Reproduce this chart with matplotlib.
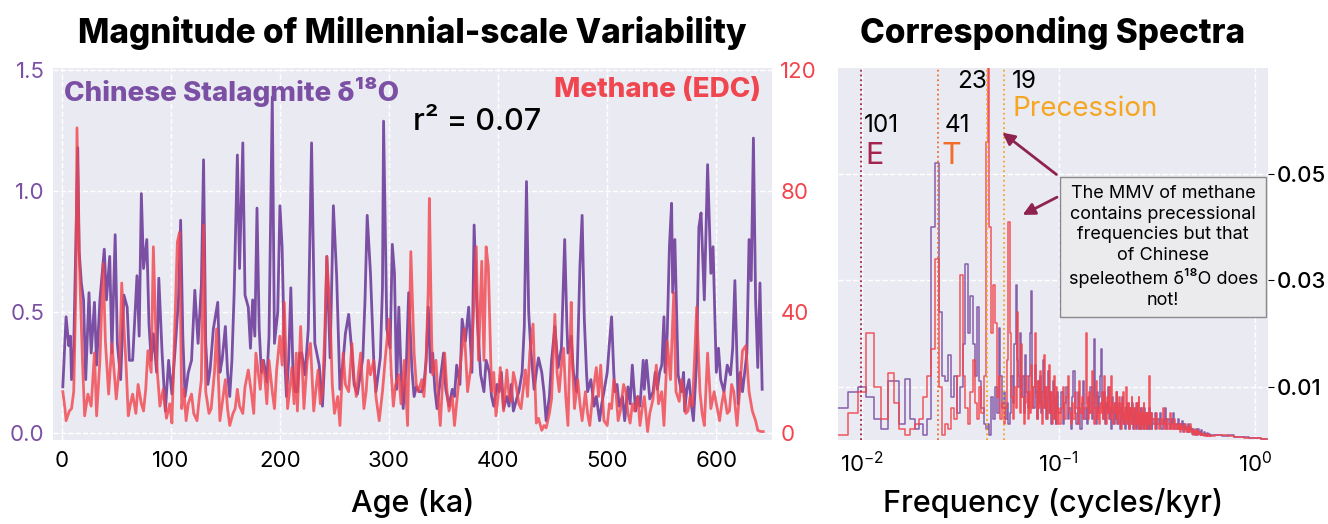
import matplotlib
matplotlib.use("Agg")
import matplotlib.pyplot as plt
import numpy as np

plt.rcParams["font.family"] = ["Inter", "DejaVu Sans"]
plt.rcParams["mathtext.fontset"] = "custom"
plt.rcParams["mathtext.rm"] = "Inter"
plt.rcParams["mathtext.it"] = "Inter"
plt.rcParams["mathtext.bf"] = "Inter:bold"

PURPLE = "#7b4fa3"
RED = "#f2444c"
BG = "#eaeaf2"

# ---- left panel: millennial-scale variability (ka, magnitude) ----
age_d18o = [1, 4, 6.5, 8, 9, 11, 13, 14.7, 16, 18, 20, 22, 25, 27, 30, 32, 35, 39, 41, 44,
            46, 49, 51, 54, 57, 60, 62, 65, 69, 71, 73, 75, 78, 80, 82, 84, 87, 89, 92, 95,
            98, 101, 104, 107, 109, 111, 113, 116, 119, 122, 125, 128, 130, 132, 134, 136, 139, 143, 145, 147,
            150, 152, 154, 156, 158, 161, 163, 166, 168, 171, 173, 175, 177, 179, 181, 183, 185, 188, 190, 193,
            195, 198, 200, 202, 204, 206, 208, 210, 212, 214, 216, 218, 220, 223, 226, 229, 232, 236, 239, 241,
            243, 246, 249, 252, 255, 258, 260, 263, 266, 268, 271, 274, 276, 278, 280, 283, 286, 288, 292, 294,
            295, 298, 301, 303, 305, 307, 309, 311, 313, 316, 318, 321, 323, 325, 328, 330, 332, 334, 336, 338,
            340, 342, 344, 347, 350, 352, 355, 358, 360, 362, 365, 367, 370, 373, 376, 378, 381, 384, 387, 389,
            392, 394, 396, 399, 401, 403, 405, 408, 410, 412, 414, 417, 419, 422, 424, 426, 428, 430, 433, 435,
            437, 440, 442, 444, 447, 449, 452, 455, 458, 461, 463, 464, 467, 469, 472, 475, 477, 479, 481, 482,
            485, 488, 490, 493, 495, 497, 500, 502, 504, 506, 507, 509, 511, 514, 516, 519, 521, 523, 526, 528,
            530, 533, 534, 536, 539, 542, 544, 546, 548, 550, 552, 553, 555, 557, 559, 560, 562, 565, 568, 570,
            571, 573, 575, 577, 579, 582, 584, 586, 589, 592, 595, 597, 600, 602, 604, 607, 610, 613, 615, 617,
            620, 622, 624, 626, 628, 630, 632, 634, 636, 638, 640, 642]
mmv_d18o = [0.19, 0.48, 0.36, 0.40, 0.22, 0.35, 0.80, 1.18, 0.75, 0.62, 0.55, 0.22, 0.58, 0.33, 0.54, 0.28, 0.55, 0.76, 0.55, 0.73,
            0.33, 0.82, 0.37, 0.22, 0.57, 0.52, 0.30, 0.30, 0.65, 0.40, 0.99, 0.68, 0.80, 0.45, 0.30, 0.41, 0.25, 0.64, 0.33, 0.09,
            0.30, 0.16, 0.35, 0.55, 0.88, 0.40, 0.15, 0.25, 0.30, 0.59, 0.37, 0.61, 1.13, 0.37, 0.20, 0.26, 0.43, 0.54, 0.25, 0.30,
            0.44, 0.25, 0.15, 0.30, 0.57, 1.15, 0.68, 1.20, 0.57, 0.52, 0.35, 0.55, 0.40, 0.93, 0.43, 0.25, 0.30, 0.21, 0.40, 1.39,
            0.37, 0.50, 0.94, 0.77, 0.35, 0.15, 0.30, 0.60, 0.25, 0.17, 0.17, 0.33, 0.33, 0.24, 0.43, 1.20, 0.37, 0.28, 0.11, 0.30,
            0.73, 0.31, 0.94, 0.65, 0.18, 0.30, 0.41, 0.49, 0.33, 0.20, 0.16, 0.25, 0.31, 0.55, 0.90, 0.66, 0.30, 0.17, 0.31, 0.60,
            1.29, 0.43, 0.35, 0.78, 0.66, 0.18, 0.52, 0.25, 0.10, 0.30, 0.58, 0.26, 0.15, 0.19, 0.17, 0.17, 0.20, 0.30, 0.52, 0.25,
            0.33, 0.18, 0.10, 0.22, 0.33, 0.18, 0.11, 0.18, 0.15, 0.28, 0.20, 0.47, 0.38, 0.52, 0.25, 0.86, 0.46, 0.24, 0.17, 0.30,
            0.25, 0.15, 0.11, 0.20, 0.17, 0.25, 0.10, 0.15, 0.11, 0.20, 0.09, 0.14, 0.17, 0.25, 0.44, 1.04, 0.50, 0.34, 0.18, 0.25,
            0.31, 0.25, 0.17, 0.05, 0.15, 0.30, 0.44, 0.27, 0.35, 0.80, 0.45, 0.33, 0.40, 0.25, 0.17, 0.69, 0.90, 0.47, 0.25, 0.17,
            0.22, 0.11, 0.15, 0.05, 0.12, 0.17, 0.25, 0.37, 0.48, 0.25, 0.17, 0.20, 0.11, 0.15, 0.05, 0.19, 0.12, 0.28, 0.09, 0.15,
            0.11, 0.30, 0.18, 0.30, 0.14, 0.17, 0.25, 0.18, 0.25, 0.28, 0.48, 0.25, 0.41, 0.77, 0.95, 0.58, 0.80, 0.24, 0.17, 0.25,
            0.09, 0.18, 0.22, 0.12, 0.05, 0.30, 0.85, 0.91, 0.55, 1.11, 0.66, 0.77, 0.25, 0.35, 0.22, 0.17, 0.28, 0.24, 0.35, 0.63,
            0.12, 0.25, 0.17, 0.25, 0.33, 0.80, 0.63, 1.22, 0.55, 0.27, 0.62, 0.18]

age_ch4 = [1, 3, 4, 7, 9, 11, 13, 14, 16, 19, 21, 24, 27, 30, 32, 35, 38, 40, 43, 46,
           50, 53, 55, 57, 59, 61, 63, 65, 68, 70, 73, 75, 77, 79, 82, 84, 87, 90, 93, 96,
           99, 101, 104, 106, 108, 110, 112, 114, 116, 119, 121, 124, 126, 128, 130, 132, 135, 137, 140, 142,
           145, 148, 150, 152, 154, 157, 159, 161, 163, 166, 168, 171, 174, 176, 178, 182, 184, 186, 188, 190,
           193, 195, 197, 200, 202, 204, 207, 209, 211, 213, 215, 216, 219, 222, 225, 228, 231, 233, 235, 237,
           239, 241, 243, 246, 248, 250, 253, 255, 258, 260, 263, 266, 268, 270, 272, 274, 277, 279, 281, 283,
           286, 288, 291, 294, 297, 300, 302, 304, 306, 309, 311, 314, 317, 319, 320, 323, 325, 327, 330, 332,
           334, 336, 337, 339, 340, 343, 345, 347, 349, 351, 353, 355, 358, 360, 363, 366, 369, 372, 375, 377,
           380, 382, 385, 387, 389, 391, 394, 396, 398, 400, 402, 405, 408, 410, 412, 414, 416, 419, 421, 423,
           425, 427, 429, 432, 435, 437, 440, 442, 444, 447, 449, 452, 454, 456, 458, 460, 462, 464, 467, 468,
           470, 473, 475, 477, 480, 482, 484, 487, 490, 492, 494, 497, 500, 502, 504, 506, 508, 510, 512, 515,
           517, 519, 521, 523, 525, 528, 530, 532, 534, 537, 539, 542, 545, 547, 550, 552, 554, 555, 558, 561,
           563, 566, 568, 570, 572, 574, 576, 578, 580, 582, 585, 587, 589, 592, 595, 598, 600, 603, 605, 607,
           610, 612, 614, 616, 619, 621, 624, 627, 630, 633, 636, 638, 641, 643]
mmv_ch4 = [13.6, 8.0, 4.0, 7.2, 8.0, 13.6, 48.0, 101.0, 59.0, 24.0, 5.6, 12.8, 8.8, 26.4, 5.6, 24.0, 56.0, 30.4, 12.8, 29.6,
           11.2, 22.4, 49.6, 35.2, 22.4, 5.6, 9.6, 12.8, 6.4, 16.0, 9.6, 7.2, 14.4, 27.2, 20.0, 61.6, 23.2, 8.8, 14.4, 4.8,
           9.6, 3.2, 39.2, 63.2, 66.4, 8.0, 14.4, 4.0, 9.6, 12.8, 6.4, 4.0, 11.2, 17.6, 68.8, 13.6, 6.4, 8.0, 20.0, 34.4,
           4.0, 12.0, 17.6, 8.0, 2.4, 6.4, 8.0, 14.4, 8.8, 6.4, 15.2, 20.8, 12.8, 6.4, 26.4, 14.4, 24.0, 19.2, 9.6, 24.0,
           13.6, 8.0, 20.8, 32.0, 22.4, 43.2, 8.0, 14.4, 21.6, 9.6, 26.4, 7.2, 35.2, 8.0, 24.0, 29.6, 7.2, 14.4, 20.8, 9.6,
           13.6, 32.0, 58.4, 39.2, 16.0, 6.4, 12.0, 2.4, 26.4, 16.0, 13.6, 29.6, 17.6, 12.0, 20.0, 26.4, 8.0, 13.6, 24.0, 19.2,
           24.0, 12.0, 4.0, 13.6, 26.4, 37.6, 20.0, 8.8, 16.0, 19.2, 9.6, 24.0, 2.4, 40.0, 60.0, 26.4, 16.0, 13.6, 17.6, 12.0,
           24.0, 48.0, 77.6, 32.0, 19.2, 24.0, 12.0, 2.4, 16.0, 26.4, 14.4, 7.2, 12.0, 2.4, 13.6, 24.8, 34.4, 13.6, 21.6, 36.0,
           61.6, 24.0, 56.8, 24.0, 61.6, 55.2, 13.6, 20.0, 5.6, 12.0, 21.6, 7.2, 20.8, 12.0, 10.4, 20.0, 16.8, 9.6, 8.0, 14.4,
           20.8, 12.0, 26.4, 36.0, 3.2, 4.8, 0.8, 2.4, 1.6, 6.4, 11.2, 39.2, 20.0, 13.6, 22.4, 28.0, 12.0, 2.4, 43.2, 24.0,
           8.0, 17.6, 9.6, 4.0, 13.6, 6.4, 2.4, 13.6, 21.6, 12.0, 22.4, 4.0, 2.4, 9.6, 8.0, 17.6, 13.6, 4.0, 7.2, 16.0,
           13.6, 6.4, 3.2, 9.6, 7.2, 12.0, 2.4, 8.0, 12.0, 0.4, 6.4, 11.2, 22.4, 9.6, 13.6, 2.4, 19.2, 30.4, 17.6, 46.4,
           13.6, 10.4, 17.6, 13.6, 6.4, 7.2, 12.0, 8.8, 24.0, 41.6, 13.6, 6.4, 2.4, 26.4, 8.0, 13.6, 9.6, 4.0, 9.6, 13.6,
           6.4, 7.2, 16.0, 13.6, 2.4, 12.0, 27.2, 28.8, 13.6, 7.2, 4.0, 0.8, 0.4, 0.4]

# ---- right panel: spectra (cycles/kyr, power) ----
freq_low = [0.007, 0.008, 0.009, 0.010, 0.011, 0.012, 0.013, 0.014, 0.015, 0.016,
            0.017, 0.018, 0.019, 0.020, 0.021, 0.022, 0.023, 0.024, 0.025, 0.026,
            0.027, 0.028, 0.029, 0.030, 0.031, 0.032, 0.033, 0.034, 0.035, 0.036,
            0.037, 0.038, 0.039, 0.040, 0.041, 0.042, 0.043, 0.044, 0.045, 0.046,
            0.047, 0.048, 0.049, 0.050, 0.051, 0.052, 0.053, 0.054, 0.055, 0.056,
            0.057, 0.058, 0.059, 0.060, 0.061, 0.062, 0.063, 0.064, 0.065, 0.066,
            0.067, 0.068, 0.069, 0.070, 0.071, 0.072, 0.073, 0.074, 0.075, 0.076,
            0.077, 0.078, 0.079, 0.080, 0.081, 0.082, 0.083, 0.084, 0.085, 0.086,
            0.087, 0.088, 0.089, 0.090, 0.091, 0.092, 0.093, 0.094, 0.095, 0.096,
            0.097, 0.098, 0.099, 0.100]
spec_d18o_low = [0.025, 0.006, 0.009, 0.010, 0.008, 0.004, 0.002, 0.011, 0.011, 0.003,
                 0.0115, 0.004, 0.002, 0.003, 0.001, 0.004, 0.040, 0.052, 0.024, 0.012,
                 0.011, 0.016, 0.008, 0.012, 0.005, 0.010, 0.018, 0.033, 0.020, 0.027,
                 0.018, 0.012, 0.025, 0.011, 0.006, 0.003, 0.002, 0.003, 0.001, 0.008,
                 0.004, 0.010, 0.005, 0.021, 0.012, 0.006, 0.009, 0.004, 0.007, 0.003,
                 0.005, 0.012, 0.007, 0.018, 0.029, 0.015, 0.010, 0.020, 0.008, 0.012,
                 0.005, 0.016, 0.009, 0.006, 0.012, 0.020, 0.028, 0.010, 0.006, 0.014,
                 0.009, 0.004, 0.011, 0.007, 0.012, 0.005, 0.009, 0.015, 0.006, 0.010,
                 0.004, 0.008, 0.013, 0.005, 0.009, 0.003, 0.007, 0.011, 0.004, 0.008,
                 0.003, 0.006, 0.009, 0.005]
spec_ch4_low = [0.001, 0.001, 0.005, 0.009, 0.020, 0.010, 0.004, 0.0125, 0.007, 0.002,
                0.001, 0.002, 0.003, 0.004, 0.008, 0.012, 0.017, 0.034, 0.010, 0.001,
                0.003, 0.002, 0.006, 0.004, 0.012, 0.031, 0.012, 0.006, 0.003, 0.009,
                0.015, 0.007, 0.004, 0.010, 0.005, 0.012, 0.056, 0.072, 0.040, 0.020,
                0.029, 0.022, 0.008, 0.012, 0.004, 0.007, 0.003, 0.006, 0.015, 0.041,
                0.020, 0.008, 0.004, 0.010, 0.006, 0.024, 0.012, 0.005, 0.018, 0.008,
                0.003, 0.007, 0.012, 0.004, 0.009, 0.005, 0.014, 0.006, 0.010, 0.020,
                0.008, 0.004, 0.011, 0.006, 0.013, 0.007, 0.003, 0.009, 0.016, 0.006,
                0.010, 0.004, 0.008, 0.014, 0.005, 0.009, 0.003, 0.007, 0.012, 0.004,
                0.008, 0.010, 0.003, 0.006]

freq_high = [0.102, 0.104, 0.106, 0.108, 0.110, 0.112, 0.114, 0.116, 0.118, 0.120,
             0.122, 0.124, 0.126, 0.128, 0.130, 0.132, 0.134, 0.136, 0.138, 0.140,
             0.142, 0.144, 0.146, 0.148, 0.150, 0.152, 0.154, 0.156, 0.158, 0.160,
             0.162, 0.164, 0.166, 0.168, 0.170, 0.172, 0.174, 0.176, 0.178, 0.180,
             0.182, 0.184, 0.186, 0.188, 0.190, 0.192, 0.194, 0.196, 0.198, 0.200,
             0.202, 0.204, 0.206, 0.208, 0.210, 0.212, 0.214, 0.216, 0.218, 0.220,
             0.222, 0.224, 0.226, 0.228, 0.230, 0.232, 0.234, 0.236, 0.238, 0.240,
             0.242, 0.244, 0.246, 0.248, 0.250, 0.252, 0.254, 0.256, 0.258, 0.260,
             0.262, 0.264, 0.266, 0.268, 0.270, 0.272, 0.274, 0.276, 0.278, 0.280,
             0.282, 0.284, 0.286, 0.288, 0.290, 0.292, 0.294, 0.296, 0.298, 0.300]
spec_d18o_high = [0.005, 0.009, 0.003, 0.007, 0.010, 0.004, 0.006, 0.002, 0.008, 0.013,
                  0.005, 0.003, 0.009, 0.006, 0.002, 0.007, 0.011, 0.004, 0.006, 0.003,
                  0.008, 0.005, 0.010, 0.004, 0.007, 0.019, 0.006, 0.003, 0.009, 0.005,
                  0.008, 0.012, 0.017, 0.006, 0.004, 0.009, 0.003, 0.007, 0.005, 0.010,
                  0.004, 0.006, 0.002, 0.008, 0.005, 0.003, 0.007, 0.004, 0.009, 0.003,
                  0.005, 0.007, 0.002, 0.006, 0.004, 0.008, 0.003, 0.005, 0.002, 0.006,
                  0.004, 0.007, 0.003, 0.005, 0.002, 0.006, 0.004, 0.003, 0.007, 0.002,
                  0.005, 0.003, 0.006, 0.002, 0.004, 0.007, 0.003, 0.005, 0.002, 0.004,
                  0.006, 0.002, 0.004, 0.003, 0.005, 0.002, 0.006, 0.003, 0.004, 0.002,
                  0.005, 0.003, 0.002, 0.004, 0.006, 0.002, 0.003, 0.005, 0.002, 0.004]
spec_ch4_high = [0.003, 0.006, 0.010, 0.004, 0.008, 0.012, 0.005, 0.003, 0.007, 0.004,
                 0.009, 0.006, 0.003, 0.011, 0.005, 0.008, 0.004, 0.006, 0.020, 0.007,
                 0.004, 0.009, 0.005, 0.013, 0.006, 0.003, 0.008, 0.011, 0.004, 0.006,
                 0.003, 0.007, 0.005, 0.009, 0.004, 0.012, 0.006, 0.003, 0.008, 0.005,
                 0.010, 0.004, 0.012, 0.006, 0.003, 0.007, 0.005, 0.009, 0.004, 0.006,
                 0.003, 0.008, 0.005, 0.002, 0.007, 0.004, 0.009, 0.003, 0.006, 0.004,
                 0.010, 0.003, 0.005, 0.007, 0.002, 0.006, 0.004, 0.008, 0.003, 0.005,
                 0.006, 0.002, 0.004, 0.007, 0.003, 0.005, 0.002, 0.008, 0.004, 0.003,
                 0.005, 0.002, 0.006, 0.003, 0.004, 0.007, 0.002, 0.005, 0.003, 0.004,
                 0.002, 0.005, 0.003, 0.004, 0.012, 0.003, 0.002, 0.005, 0.003, 0.004]

freq_tail = [0.305, 0.310, 0.315, 0.320, 0.325, 0.330, 0.335, 0.340, 0.345, 0.350,
             0.355, 0.360, 0.365, 0.370, 0.375, 0.380, 0.385, 0.390, 0.395, 0.400,
             0.405, 0.410, 0.415, 0.420, 0.425, 0.430, 0.435, 0.440, 0.445, 0.450,
             0.455, 0.460, 0.465, 0.470, 0.475, 0.480, 0.485, 0.490, 0.495, 0.500,
             0.505, 0.510, 0.515, 0.520, 0.525, 0.530, 0.535, 0.540, 0.545, 0.550,
             0.555, 0.560, 0.565, 0.570, 0.575, 0.580, 0.585, 0.590, 0.595, 0.600,
             0.65, 0.70, 0.75, 0.80, 0.85, 0.90, 0.95, 1.00, 1.05, 1.10, 1.15]
spec_d18o_tail = [0.003, 0.005, 0.002, 0.004, 0.003, 0.005, 0.002, 0.004, 0.003, 0.006,
                  0.002, 0.004, 0.003, 0.002, 0.004, 0.003, 0.005, 0.002, 0.003, 0.002,
                  0.004, 0.002, 0.003, 0.002, 0.0035, 0.0015, 0.003, 0.002, 0.0025, 0.0015,
                  0.003, 0.002, 0.0015, 0.0025, 0.002, 0.0012, 0.002, 0.0015, 0.001, 0.002,
                  0.0015, 0.001, 0.002, 0.0012, 0.0015, 0.001, 0.0018, 0.001, 0.0012, 0.0015,
                  0.001, 0.0012, 0.0008, 0.0013, 0.001, 0.0009, 0.0012, 0.0008, 0.001, 0.0009,
                  0.0010, 0.0008, 0.0009, 0.0006, 0.0005, 0.0005, 0.0004, 0.0003, 0.0003, 0.0002, 0.0002]
spec_ch4_tail = [0.004, 0.002, 0.005, 0.003, 0.002, 0.004, 0.003, 0.006, 0.002, 0.003,
                 0.004, 0.002, 0.003, 0.005, 0.002, 0.003, 0.002, 0.004, 0.002, 0.003,
                 0.002, 0.003, 0.0015, 0.003, 0.002, 0.0025, 0.0015, 0.003, 0.002, 0.0015,
                 0.0025, 0.0015, 0.002, 0.003, 0.0015, 0.002, 0.001, 0.0018, 0.0012, 0.0015,
                 0.001, 0.0018, 0.0012, 0.0015, 0.001, 0.0013, 0.0009, 0.0012, 0.001, 0.0008,
                 0.0012, 0.0009, 0.001, 0.0008, 0.0011, 0.0007, 0.0009, 0.0008, 0.0007, 0.0008,
                 0.0009, 0.0010, 0.0007, 0.0006, 0.0006, 0.0004, 0.0004, 0.0003, 0.0003, 0.0002, 0.0002]

orbital_periods = [101, 41, 23, 19]
orbital_colors = ["#a3234d", "#f26c2a", "#f5a623", "#f5a623"]


def style_axes(ax):
    ax.set_facecolor(BG)
    for s in ax.spines.values():
        s.set_visible(False)
    ax.grid(True, color="white", linestyle="--", linewidth=1.0)
    ax.set_axisbelow(True)


def plot_timeseries(ax):
    style_axes(ax)
    ax.plot(age_d18o, mmv_d18o, color=PURPLE, lw=2.0, zorder=2)
    ax.set_xlim(-8, 651)
    ax.set_ylim(-0.03, 1.51)
    ax.set_yticks([0.0, 0.5, 1.0, 1.5])
    ax.set_xticks([0, 100, 200, 300, 400, 500, 600])
    ax.tick_params(axis="y", colors=PURPLE, labelsize=16, length=0, pad=6)
    ax.tick_params(axis="x", labelsize=16, length=0, pad=8)
    ax.set_xlabel("Age (ka)", fontsize=22, fontweight="medium")
    ax.xaxis.set_label_coords(0.5, -0.13)

    ax2 = ax.twinx()
    for s in ax2.spines.values():
        s.set_visible(False)
    ax2.plot(age_ch4, mmv_ch4, color=RED, lw=2.0, alpha=0.8, zorder=3)
    ax2.set_ylim(-0.03 * 80, 1.51 * 80)
    ax2.set_yticks([0, 40, 80, 120])
    ax2.tick_params(axis="y", colors=RED, labelsize=16, length=0, pad=6)
    ax2.grid(False)

    ax.text(0.015, 0.975, "Chinese Stalagmite δ¹⁸O", transform=ax.transAxes,
            color=PURPLE, fontsize=20, fontweight="heavy", ha="left", va="top")
    ax2.text(0.985, 0.975, "Methane (EDC)", transform=ax.transAxes,
             color="#f0464f", fontsize=20, fontweight="heavy", ha="right", va="top")
    ax2.text(0.59, 0.855, "r² = 0.07", transform=ax.transAxes,
             color="black", fontsize=22, fontweight="medium", ha="center", va="center")
    ax.set_title("Magnitude of Millennial-scale Variability", fontsize=24,
                 fontweight="heavy", pad=18)


def plot_spectra(ax):
    style_axes(ax)
    freq = freq_low + freq_high + freq_tail
    ax.plot(freq, spec_d18o_low + spec_d18o_high + spec_d18o_tail, color=PURPLE,
            lw=1.1, drawstyle="steps-mid", alpha=0.9, zorder=2)
    ax.plot(freq, spec_ch4_low + spec_ch4_high + spec_ch4_tail, color=RED,
            lw=1.1, drawstyle="steps-mid", alpha=0.9, zorder=3)
    ax.set_xscale("log")
    ax.set_xlim(0.00755, 1.16)
    ax.set_ylim(0, 0.0698)
    ax.set_xticks([0.01, 0.1, 1.0])
    ax.set_yticks([0.01, 0.03, 0.05])
    ax.set_yticklabels(["0.01", "0.03", "0.05"])
    ax.minorticks_off()
    ax.yaxis.tick_right()
    ax.tick_params(axis="y", labelsize=16, length=4, width=0.8, pad=2)
    for lab in ax.get_yticklabels():
        lab.set_fontweight("medium")
    ax.tick_params(axis="x", labelsize=16, length=0, pad=8)
    ax.set_xlabel("Frequency (cycles/kyr)", fontsize=22, fontweight="medium")
    ax.xaxis.set_label_coords(0.5, -0.13)
    ax.set_title("Corresponding Spectra", fontsize=24, fontweight="heavy", pad=18)

    for per, col in zip(orbital_periods, orbital_colors):
        ax.axvline(1.0 / per, color=col, linestyle=":", lw=1.3, zorder=4)

    ax.text(0.0102, 0.059, "101", fontsize=17.5, ha="left", va="center")
    ax.text(0.0104, 0.0532, "E", fontsize=22, color="#a3234d", ha="left", va="center")
    ax.text(0.0262, 0.059, "41", fontsize=17.5, ha="left", va="center")
    ax.text(0.0255, 0.0532, "T", fontsize=22, color="#f26c2a", ha="left", va="center")
    ax.text(0.0432, 0.0672, "23", fontsize=17.5, ha="right", va="center")
    ax.text(0.0575, 0.0672, "19", fontsize=17.5, ha="left", va="center")
    ax.text(0.0580, 0.0622, "Precession", fontsize=20, color="#f5a623",
            ha="left", va="center")

    ax.text(0.340, 0.0362,
            "The MMV of methane\ncontains precessional\nfrequencies but that\n"
            "of Chinese\nspeleothem δ¹⁸O does\nnot!",
            fontsize=13, ha="center", va="center", linespacing=1.28, zorder=6,
            bbox=dict(boxstyle="square,pad=0.45", facecolor="#ebebee",
                      edgecolor="#8a8a8a", linewidth=1.0))
    arrow = dict(arrowstyle="-|>", color="#8e2350", lw=2.0, mutation_scale=18)
    ax.annotate("", xy=(0.0504, 0.058), xytext=(0.100, 0.0495),
                arrowprops=arrow, zorder=7)
    ax.annotate("", xy=(0.0637, 0.042), xytext=(0.101, 0.0458),
                arrowprops=arrow, zorder=7)


def main():
    fig = plt.figure(figsize=(13.28, 5.24), dpi=100)
    ax_ts = fig.add_axes([0.0399, 0.1603, 0.5414, 0.7099])
    ax_sp = fig.add_axes([0.6310, 0.1603, 0.3238, 0.7099])
    plot_timeseries(ax_ts)
    plot_spectra(ax_sp)
    fig.savefig("out.png", dpi=100)
    plt.close(fig)


if __name__ == "__main__":
    main()
